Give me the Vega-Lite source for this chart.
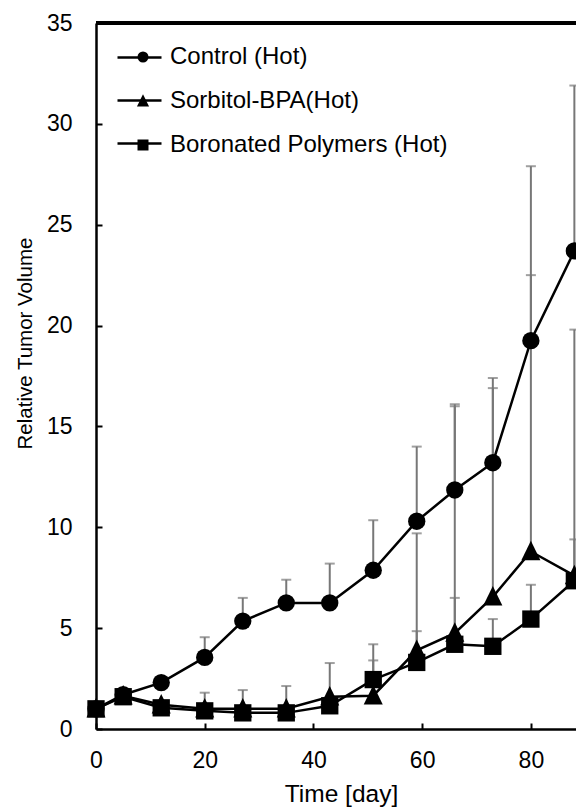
{
  "$schema": "https://vega.github.io/schema/vega-lite/v6.json",
  "autosize": {"type": "none"},
  "width": 480,
  "height": 706,
  "padding": {"left": 96, "top": 23, "right": 0, "bottom": 78},
  "background": "white",
  "config": {"view": {"stroke": null}, "font": "Liberation Sans"},
  "data": {
    "values": [
      {"series": "Control (Hot)", "day": 0, "value": 1.0, "upper": null},
      {"series": "Control (Hot)", "day": 5, "value": 1.7, "upper": null},
      {"series": "Control (Hot)", "day": 12, "value": 2.3, "upper": null},
      {"series": "Control (Hot)", "day": 20, "value": 3.55, "upper": 4.55},
      {"series": "Control (Hot)", "day": 27, "value": 5.35, "upper": 6.5},
      {"series": "Control (Hot)", "day": 35, "value": 6.25, "upper": 7.4},
      {"series": "Control (Hot)", "day": 43, "value": 6.25, "upper": 8.2},
      {"series": "Control (Hot)", "day": 51, "value": 7.87, "upper": 10.35},
      {"series": "Control (Hot)", "day": 59, "value": 10.3, "upper": 14.0},
      {"series": "Control (Hot)", "day": 66, "value": 11.85, "upper": 16.1},
      {"series": "Control (Hot)", "day": 73, "value": 13.2, "upper": 17.4},
      {"series": "Control (Hot)", "day": 80, "value": 19.25, "upper": 27.9},
      {"series": "Control (Hot)", "day": 88, "value": 23.7, "upper": 31.9},
      {"series": "Sorbitol-BPA(Hot)", "day": 0, "value": 1.0, "upper": null},
      {"series": "Sorbitol-BPA(Hot)", "day": 5, "value": 1.65, "upper": null},
      {"series": "Sorbitol-BPA(Hot)", "day": 12, "value": 1.2, "upper": null},
      {"series": "Sorbitol-BPA(Hot)", "day": 20, "value": 1.0, "upper": 1.8},
      {"series": "Sorbitol-BPA(Hot)", "day": 27, "value": 1.0, "upper": 1.93},
      {"series": "Sorbitol-BPA(Hot)", "day": 35, "value": 1.0, "upper": 2.13},
      {"series": "Sorbitol-BPA(Hot)", "day": 43, "value": 1.6, "upper": 3.27},
      {"series": "Sorbitol-BPA(Hot)", "day": 51, "value": 1.65, "upper": 3.4},
      {"series": "Sorbitol-BPA(Hot)", "day": 59, "value": 3.9, "upper": 9.7},
      {"series": "Sorbitol-BPA(Hot)", "day": 66, "value": 4.75, "upper": 16.0},
      {"series": "Sorbitol-BPA(Hot)", "day": 73, "value": 6.55, "upper": 16.9},
      {"series": "Sorbitol-BPA(Hot)", "day": 80, "value": 8.8, "upper": 22.5},
      {"series": "Sorbitol-BPA(Hot)", "day": 88, "value": 7.6, "upper": 19.8},
      {"series": "Boronated Polymers (Hot)", "day": 0, "value": 1.0, "upper": null},
      {"series": "Boronated Polymers (Hot)", "day": 5, "value": 1.6, "upper": null},
      {"series": "Boronated Polymers (Hot)", "day": 12, "value": 1.05, "upper": null},
      {"series": "Boronated Polymers (Hot)", "day": 20, "value": 0.9, "upper": null},
      {"series": "Boronated Polymers (Hot)", "day": 27, "value": 0.8, "upper": null},
      {"series": "Boronated Polymers (Hot)", "day": 35, "value": 0.8, "upper": null},
      {"series": "Boronated Polymers (Hot)", "day": 43, "value": 1.15, "upper": null},
      {"series": "Boronated Polymers (Hot)", "day": 51, "value": 2.45, "upper": 4.2},
      {"series": "Boronated Polymers (Hot)", "day": 59, "value": 3.3, "upper": 4.85},
      {"series": "Boronated Polymers (Hot)", "day": 66, "value": 4.2, "upper": 6.5},
      {"series": "Boronated Polymers (Hot)", "day": 73, "value": 4.1, "upper": 5.45},
      {"series": "Boronated Polymers (Hot)", "day": 80, "value": 5.45, "upper": 7.15},
      {"series": "Boronated Polymers (Hot)", "day": 88, "value": 7.35, "upper": 9.4}
    ]
  },
  "encoding": {
    "x": {
      "field": "day",
      "type": "quantitative",
      "scale": {"domain": [0, 88.3], "nice": false, "zero": false},
      "axis": {
        "values": [0, 20, 40, 60, 80],
        "title": "Time [day]",
        "titleFontSize": 24.5,
        "titleFontWeight": "normal",
        "titleColor": "black",
        "titleX": 245,
        "titleY": 72,
        "titleAnchor": null,
        "titleAlign": "center",
        "titleBaseline": "alphabetic",
        "labelFontSize": 23,
        "labelColor": "black",
        "labelPadding": 26,
        "labelFlush": false,
        "tickSize": -6,
        "tickWidth": 2,
        "tickColor": "black",
        "domainColor": "black",
        "domainWidth": 2.5,
        "grid": false
      }
    },
    "y": {
      "field": "value",
      "type": "quantitative",
      "scale": {"domain": [0, 35], "nice": false},
      "axis": {
        "values": [0, 5, 10, 15, 20, 25, 30, 35],
        "title": "Relative Tumor Volume",
        "titleFontSize": 20.5,
        "titleFontWeight": "normal",
        "titleColor": "black",
        "titleX": -71,
        "titleY": 320,
        "titleAngle": -90,
        "titleAlign": "center",
        "titleBaseline": "middle",
        "labelFontSize": 23,
        "labelColor": "black",
        "labelPadding": 30,
        "labelFlush": false,
        "tickSize": -6,
        "tickWidth": 2,
        "tickColor": "black",
        "domainColor": "black",
        "domainWidth": 2.5,
        "grid": false
      }
    }
  },
  "layer": [
    {
      "mark": {"type": "rule", "color": "black", "strokeWidth": 2.5},
      "encoding": {"y": {"datum": 35}, "x": null}
    },
    {
      "transform": [{"filter": "isValid(datum.upper)"}],
      "mark": {"type": "rule", "color": "#777777", "strokeWidth": 2},
      "encoding": {"y2": {"field": "upper"}}
    },
    {
      "transform": [{"filter": "isValid(datum.upper)"}],
      "mark": {"type": "tick", "color": "#777777", "orient": "horizontal", "size": 10, "thickness": 2},
      "encoding": {"y": {"field": "upper", "type": "quantitative"}}
    },
    {
      "mark": {"type": "line", "strokeWidth": 2.5},
      "encoding": {
        "color": {
          "field": "series",
          "type": "nominal",
          "scale": {
            "domain": ["Sorbitol-BPA(Hot)", "Control (Hot)", "Boronated Polymers (Hot)"],
            "range": ["black", "black", "black"]
          },
          "legend": {
            "orient": "none",
            "legendX": 20,
            "legendY": 11,
            "title": null,
            "padding": 0,
            "labelFontSize": 24,
            "labelExpr": "''",
            "labelOffset": 4,
            "labelLimit": 0,
            "rowPadding": 7,
            "symbolType": "stroke",
            "symbolSize": 1936,
            "symbolStrokeWidth": 2.5,
            "symbolStrokeColor": "black"
          }
        }
      }
    },
    {
      "mark": {"type": "point", "filled": true, "color": "black", "opacity": 1, "size": 300},
      "encoding": {
        "shape": {
          "field": "series",
          "type": "nominal",
          "scale": {
            "domain": ["Control (Hot)", "Sorbitol-BPA(Hot)", "Boronated Polymers (Hot)"],
            "range": ["circle", "M0,-1.25L1.1,1.0L-1.1,1.0Z", "square"]
          },
          "legend": {
            "orient": "none",
            "legendX": 35,
            "legendY": 22,
            "title": null,
            "padding": 0,
            "labelFontSize": 24,
            "labelColor": "black",
            "labelOffset": 15,
            "labelLimit": 0,
            "rowPadding": 20,
            "symbolSize": 121,
            "symbolFillColor": "black",
            "symbolOpacity": 1
          }
        }
      }
    }
  ]
}
